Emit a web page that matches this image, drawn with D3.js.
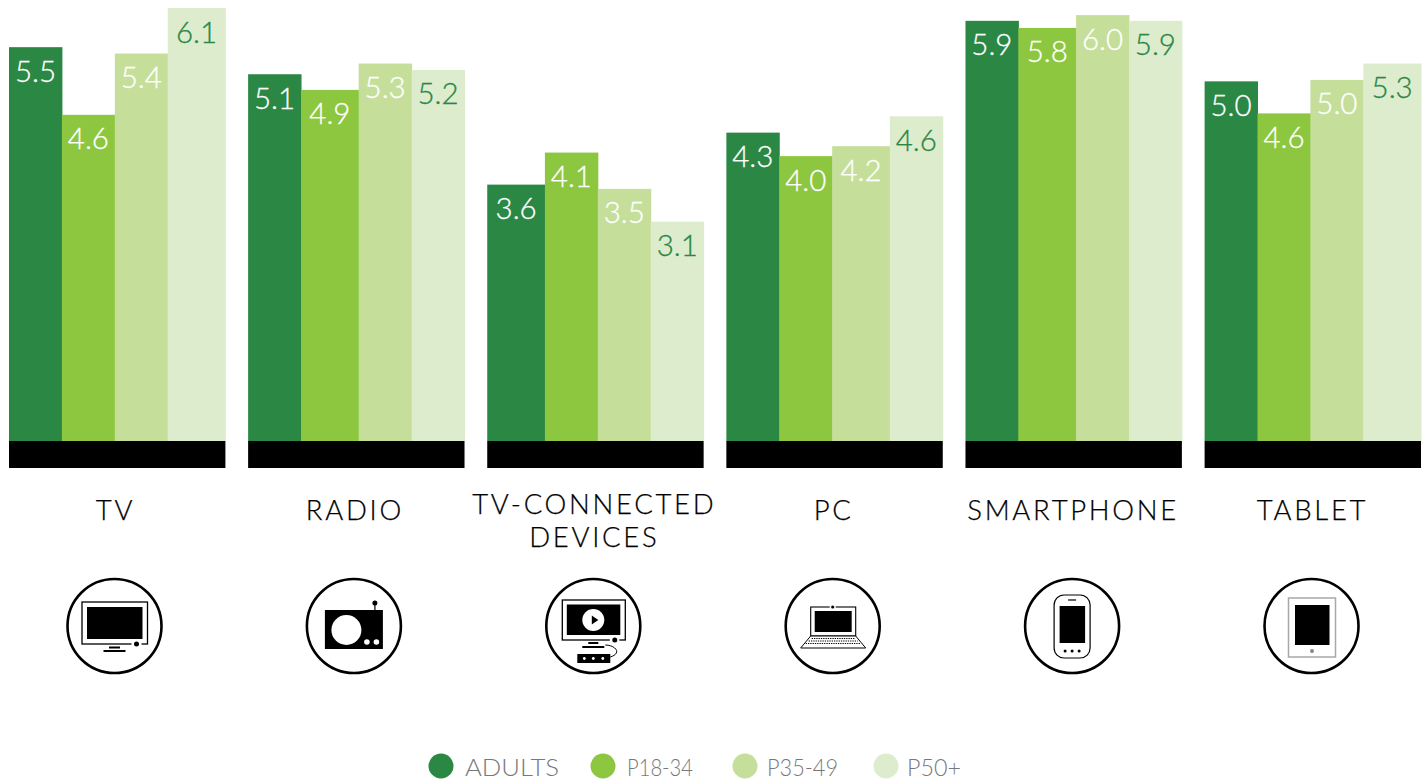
<!DOCTYPE html>
<html>
<head>
<meta charset="utf-8">
<script src="https://cdn.jsdelivr.net/npm/d3@7"></script>
<style>
  html, body { margin: 0; background: #fff; }
  svg { display: block; font-family: Lato, "Open Sans", sans-serif; }
</style>
</head>
<body>
<svg width="1424" height="782"></svg>
<script>
// bar heights, the printed labels are kept apart because the bars don't quite agree with them
const categories = ['TV', 'RADIO', 'TV-CONNECTED DEVICES', 'PC', 'SMARTPHONE', 'TABLET'];
const seriesNames = ['ADULTS', 'P18-34', 'P35-49', 'P50+'];
const adults = [5.53, 5.15, 3.60, 4.33, 5.90, 5.05];
const p1834 = [4.58, 4.93, 4.05, 4.00, 5.80, 4.60];
const p3549 = [5.44, 5.30, 3.54, 4.14, 5.98, 5.07];
const p50 = [6.08, 5.21, 3.08, 4.56, 5.90, 5.30];
const adultsLabels = ['5.5', '5.1', '3.6', '4.3', '5.9', '5.0'];
const p1834Labels = ['4.6', '4.9', '4.1', '4.0', '5.8', '4.6'];
const p3549Labels = ['5.4', '5.3', '3.5', '4.2', '6.0', '5.0'];
const p50Labels = ['6.1', '5.2', '3.1', '4.6', '5.9', '5.3'];

const values = [adults, p1834, p3549, p50];
const labels = [adultsLabels, p1834Labels, p3549Labels, p50Labels];
const colors = ['#2a8744', '#8dc63f', '#c5df9b', '#deecce'];
const labelColors = ['#fff', '#fff', '#fff', '#2a8744'];

// layout: in every group one bar was drawn a bit wider than the others
const wideBar = [3, 1, 0, 2, 1, 3];
const legendAt = [441, 603, 745, 886];
const legendTextAt = [465, 627, 767, 907];
const legendTextWidth = [94, 66, 71, 54];

const svg = d3.select('svg');
const baseY = 441;

const x0 = d3.scaleBand().domain(categories).range([9, 1421]).paddingInner(0.095);
const y = d3.scaleLinear().domain([0, 6.08]).range([baseY, 8]);
const xLabel = d3.scalePoint().domain(categories).range([114.5, 1311.5]);

// weight of the wide bar against a normal one, cumulated and mapped on the group width
const barEdges = wideBar.map(w => d3.cumsum([0, 1, 2, 3].map(s => s === w ? 1.09 : 1)));
const x1 = d3.scaleLinear().domain([0, 4.09]).range([0, x0.bandwidth()]);
const barLeft = (s, i) => x1(s === 0 ? 0 : barEdges[i][s - 1]);
const barRight = (s, i) => x1(barEdges[i][s]);

const groups = svg.append('g')
  .selectAll('g')
  .data(categories)
  .join('g')
    .attr('transform', d => `translate(${x0(d)},0)`);

groups.append('rect')
  .attr('y', baseY)
  .attr('width', x0.bandwidth())
  .attr('height', 27)
  .attr('fill', '#000');

seriesNames.forEach((name, s) => {
  groups.append('rect')
    .attr('x', (d, i) => barLeft(s, i))
    .attr('y', (d, i) => y(values[s][i]))
    .attr('width', (d, i) => barRight(s, i) - barLeft(s, i) + 0.5)
    .attr('height', (d, i) => baseY - y(values[s][i]))
    .attr('fill', colors[s]);
});
seriesNames.forEach((name, s) => {
  groups.append('text')
    .attr('x', (d, i) => (barLeft(s, i) + barRight(s, i)) / 2)
    .attr('y', (d, i) => y(values[s][i]) + 34.5)
    .attr('text-anchor', 'middle')
    .attr('font-size', 29.5)
    .attr('font-weight', 300)
    .attr('fill', labelColors[s])
    .attr('stroke', labelColors[s])
    .attr('stroke-width', 0.3)
    .text((d, i) => labels[s][i]);
});

// category names, the long one wraps on two lines
const catLabels = svg.append('g')
  .attr('text-anchor', 'middle')
  .attr('font-size', 27.5)
  .attr('font-weight', 300)
  .attr('letter-spacing', 2.7)
  .attr('fill', '#000')
  .attr('stroke', '#000')
  .attr('stroke-width', 0.25);
catLabels.selectAll('text')
  .data(categories)
  .join('text')
    .attr('x', d => xLabel(d) + 1)
    .attr('y', 520)
    .each(function(d) {
      if (d !== 'TV-CONNECTED DEVICES') { d3.select(this).text(d); return; }
      const t = d3.select(this).attr('y', 514);
      t.append('tspan').attr('x', xLabel(d) + 1).text('TV-CONNECTED');
      t.append('tspan').attr('x', xLabel(d) + 1).attr('dy', 33).text('DEVICES');
    });

// icons, drawn around the centre of each ring
const rect = (g, x0, x1, y0, y1, fill) => g.append('rect')
  .attr('x', x0).attr('y', y0).attr('width', x1 - x0).attr('height', y1 - y0)
  .attr('fill', fill || '#000');
const frame = (g, x0, x1, y0, y1, w, color) => rect(g, x0, x1, y0, y1, 'none')
  .attr('stroke', color || '#000').attr('stroke-width', w);
const dot = (g, cx, cy, r, fill) => g.append('circle')
  .attr('cx', cx).attr('cy', cy).attr('r', r).attr('fill', fill || '#000');

const icons = {
  'TV': g => {
    frame(g, -32.5, 33, -24, 18, 1.3);
    rect(g, -27.5, 28, -19, 13);
    rect(g, 17, 27, 16, 20, '#fff');
    dot(g, 22, 18, 2.5);
    rect(g, -5.5, 5.5, 20.5, 22.5);
    rect(g, -11, 11, 24, 26);
  },
  'RADIO': g => {
    rect(g, -29, 29, -16, 23);
    dot(g, -7.5, 4, 15, '#fff');
    dot(g, 13, 16, 2.8, '#fff');
    dot(g, 22.5, 16, 2.8, '#fff');
    rect(g, 20.4, 21.6, -23, -16);
    dot(g, 21, -23, 2.5);
  },
  'TV-CONNECTED DEVICES': g => {
    frame(g, -31, 32, -26, 14, 1.3);
    rect(g, -26.5, 27, -21.5, 9);
    dot(g, 0, -6, 11, '#fff');
    g.append('path').attr('d', d3.line()([[-1.5, -10.5], [5, -6], [-1.5, -1.5]])).attr('fill', '#000');
    rect(g, 16.5, 26, 12, 16, '#fff');
    dot(g, 21.5, 14, 2.5);
    rect(g, -5, 5, 16, 18);
    rect(g, -11, 11, 20, 22);
    g.append('path').attr('d', 'M12,19C20,19 25,24 23,27C22,29 20,30 17,31')
      .attr('fill', 'none').attr('stroke', '#000').attr('stroke-width', 1);
    rect(g, -16, 17, 28, 37);
    [-9, 0, 9.5].forEach(cx => dot(g, cx, 32.5, 1.4, '#fff'));
  },
  'PC': g => {
    frame(g, -22, 23, -19, 10, 1.1);
    rect(g, -18, 19, -15, 6);
    rect(g, -3, 3, -21, -17, '#fff');
    dot(g, 0, -19, 1.6);
    g.append('path').attr('d', d3.line()([[-22, 10], [23, 10], [33, 22], [-32, 22]]) + 'Z')
      .attr('fill', '#fff').attr('stroke', '#000').attr('stroke-width', 1);
    [[12.5, 21], [15, 24], [17.5, 27]].forEach(([ky, half]) => {
      g.append('line').attr('x1', -half).attr('x2', half + 1).attr('y1', ky).attr('y2', ky)
        .attr('stroke', '#000').attr('stroke-width', 1.2).attr('stroke-dasharray', '1.3 1');
    });
  },
  'SMARTPHONE': g => {
    frame(g, -18, 18, -31, 32, 1.2).attr('rx', 10);
    rect(g, -12.5, 13, -20, 17);
    rect(g, -4, 4, -26.6, -25.4);
    [-7, 0, 7].forEach(cx => dot(g, cx, 25, 1.5));
  },
  'TABLET': g => {
    frame(g, -23, 24, -28, 31, 1.5, '#a8a8a8');
    rect(g, -16.5, 18, -21, 19);
    dot(g, 0.5, 25, 2, '#888');
  }
};

const iconGroups = svg.append('g')
  .selectAll('g')
  .data(categories)
  .join('g')
    .attr('transform', d => `translate(${xLabel(d)},626)`);
iconGroups.append('circle')
  .attr('r', 47)
  .attr('fill', '#fff')
  .attr('stroke', '#000')
  .attr('stroke-width', 2.6);
iconGroups.each(function(d) { icons[d](d3.select(this)); });

// legend, text squeezed to the widths in the picture
const legend = svg.append('g');
seriesNames.forEach((name, s) => {
  legend.append('circle')
    .attr('cx', legendAt[s]).attr('cy', 766).attr('r', 12.5)
    .attr('fill', colors[s]);
  legend.append('text')
    .attr('x', legendTextAt[s])
    .attr('y', 775.5)
    .attr('font-size', 24)
    .attr('font-weight', 300)
    .attr('fill', '#77787b')
    .attr('textLength', legendTextWidth[s])
    .attr('lengthAdjust', 'spacingAndGlyphs')
    .text(name);
});
</script>
</body>
</html>
